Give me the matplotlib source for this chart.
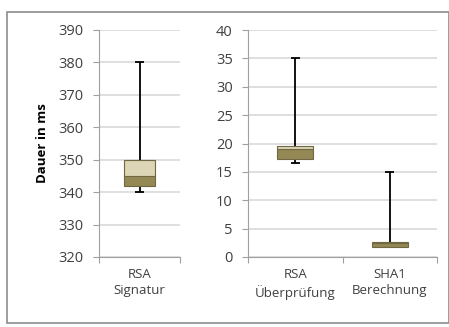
import matplotlib
matplotlib.use('Agg')
import matplotlib.pyplot as plt
from matplotlib.patches import Rectangle

plt.rcParams['font.family'] = ['Open Sans', 'DejaVu Sans']

# Box-Plot Werte: min, q1, median, q3, max
sig_labels = ['RSA\nSignatur']
sig_min = [340]
sig_q1 = [342]
sig_med = [345]
sig_q3 = [350]
sig_max = [380]

ver_labels = ['RSA\nÜberprüfung', 'SHA1\nBerechnung']
ver_min = [16.5, 1.7]
ver_q1 = [17.2, 1.7]
ver_med = [19.0, 2.5]
ver_q3 = [19.6, 2.6]
ver_max = [35, 15]

light = '#DCD6B6'
dark = '#948854'
edge = '#6E6843'
grid = '#D9D9D9'
txt = '#404040'

W, H = 449, 327
fig = plt.figure(figsize=(W / 100, H / 100), dpi=100)
fig.patches.append(Rectangle((7 / W, 4 / H), 1 - 7 / W, 1 - 16 / H, transform=fig.transFigure,
                             fill=False, edgecolor='#8C8C8C', linewidth=1.2))


def draw(ax, labels, mn, q1, med, q3, mx, ymin, ymax, step):
    x = [i + 0.5 for i in range(len(labels))]
    for i in range(len(labels)):
        ax.vlines(x[i], mn[i], mx[i], color='black', lw=1.3, zorder=2)
        ax.hlines([mn[i], mx[i]], x[i] - 0.05, x[i] + 0.05, color='black', lw=1.3, zorder=2)
    ax.bar(x, [m - a for m, a in zip(med, q1)], bottom=q1, width=0.38, color=dark,
           edgecolor=edge, linewidth=0.8, zorder=3)
    ax.bar(x, [b - m for b, m in zip(q3, med)], bottom=med, width=0.38, color=light,
           edgecolor=edge, linewidth=0.8, zorder=3)
    ax.set_xlim(0, len(labels))
    ax.set_ylim(ymin, ymax)
    ax.set_yticks(range(ymin, ymax + 1, step))
    ax.set_xticks(range(len(labels) + 1))
    ax.set_xticklabels([])
    ax.set_xticks(x, minor=True)
    ax.set_xticklabels(labels, minor=True, fontsize=9.5, color=txt, linespacing=1.3)
    ax.tick_params(axis='x', which='minor', length=0, pad=8)
    ax.tick_params(axis='x', which='major', length=4, color='#A0A0A0')
    ax.tick_params(axis='y', length=4, color='#A0A0A0', labelsize=10.5, labelcolor=txt, pad=7)
    ax.yaxis.grid(True, color=grid, lw=1.2)
    ax.set_axisbelow(True)
    for s in ['top', 'right']:
        ax.spines[s].set_visible(False)
    for s in ['left', 'bottom']:
        ax.spines[s].set_color('#A0A0A0')


ax1 = fig.add_axes([99 / W, 70 / H, 81 / W, 227 / H])
draw(ax1, sig_labels, sig_min, sig_q1, sig_med, sig_q3, sig_max, 320, 390, 10)
ax1.set_ylabel('Dauer in ms', fontsize=9.5, fontweight='bold', color='black', labelpad=7)

ax2 = fig.add_axes([248 / W, 70 / H, 189 / W, 227 / H])
draw(ax2, ver_labels, ver_min, ver_q1, ver_med, ver_q3, ver_max, 0, 40, 5)

fig.savefig('out.png', dpi=100)
